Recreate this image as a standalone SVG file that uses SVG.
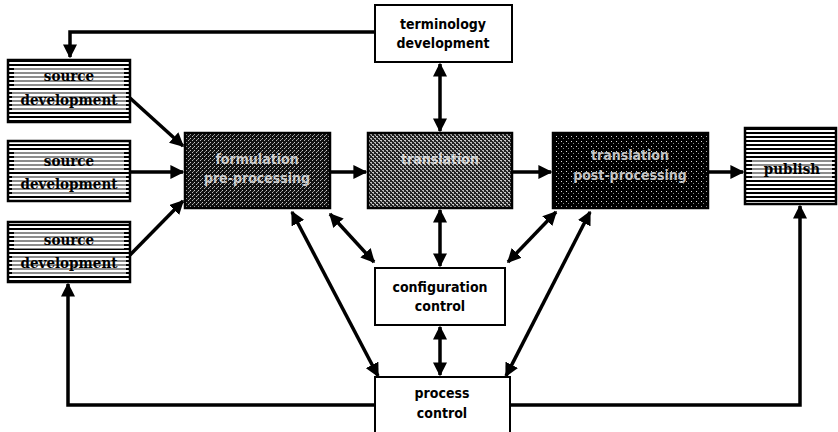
<svg xmlns="http://www.w3.org/2000/svg" width="838" height="432" viewBox="0 0 838 432">
<defs>
<pattern id="hl" width="6" height="4" patternUnits="userSpaceOnUse">
<rect width="6" height="4" fill="#fff"/><rect y="0" width="6" height="2" fill="#000"/>
</pattern>
<pattern id="dA" width="4" height="4" patternUnits="userSpaceOnUse">
<rect width="4" height="4" fill="#111"/><rect x="0" y="0" width="1" height="1" fill="#bbb"/><rect x="2" y="2" width="1" height="1" fill="#ccc"/><rect x="1" y="3" width="1" height="1" fill="#888"/>
</pattern>
<pattern id="dB" width="4" height="4" patternUnits="userSpaceOnUse">
<rect width="4" height="4" fill="#222"/><rect x="0" y="0" width="2" height="1" fill="#ccc"/><rect x="2" y="2" width="2" height="1" fill="#bbb"/><rect x="1" y="1" width="1" height="1" fill="#999"/><rect x="3" y="3" width="1" height="1" fill="#aaa"/>
</pattern>
<pattern id="dC" width="5" height="5" patternUnits="userSpaceOnUse">
<rect width="5" height="5" fill="#000"/><rect x="1" y="1" width="1" height="1" fill="#ddd"/><rect x="3" y="3" width="1" height="1" fill="#888"/>
</pattern>
<marker id="ah" viewBox="0 0 10 10" refX="9" refY="5" markerWidth="4" markerHeight="4" orient="auto-start-reverse" markerUnits="strokeWidth">
<path d="M0,0 L10,5 L0,10 z" fill="#000"/>
</marker>
<style>
.box{stroke:#000;stroke-width:2.5}
.wbox{fill:#fff;stroke:#000;stroke-width:2}
.t{font-family:"DejaVu Sans Condensed","DejaVu Sans",sans-serif;font-weight:bold;font-size:14px;fill:#000;text-anchor:middle}
.tl{font-family:"DejaVu Sans Condensed","DejaVu Sans",sans-serif;font-weight:bold;font-size:14px;fill:#fff;text-anchor:middle;opacity:0.75}
.st{font-family:"DejaVu Serif Condensed","DejaVu Serif",serif;font-weight:bold;font-size:15px;fill:#000;text-anchor:middle}
.c{fill:none;stroke:#000;stroke-width:3.5}
</style>
</defs>
<g id="connectors">
<path class="c" d="M375,32 H70 V57" marker-end="url(#ah)"/>
<path class="c" d="M440,64 V131" marker-start="url(#ah)" marker-end="url(#ah)"/>
<path class="c" d="M130,98 L183,146" marker-end="url(#ah)"/>
<path class="c" d="M130,172 H183" marker-end="url(#ah)"/>
<path class="c" d="M130,255 L183,201" marker-end="url(#ah)"/>
<path class="c" d="M330,172 H366" marker-end="url(#ah)"/>
<path class="c" d="M512,172 H551" marker-end="url(#ah)"/>
<path class="c" d="M708,172 H743" marker-end="url(#ah)"/>
<path class="c" d="M440,210 V266" marker-start="url(#ah)" marker-end="url(#ah)"/>
<path class="c" d="M330,214 L374,262" marker-start="url(#ah)" marker-end="url(#ah)"/>
<path class="c" d="M556,212 L508,262" marker-start="url(#ah)" marker-end="url(#ah)"/>
<path class="c" d="M292,212 L378,376" marker-start="url(#ah)" marker-end="url(#ah)"/>
<path class="c" d="M590,212 L506,376" marker-start="url(#ah)" marker-end="url(#ah)"/>
<path class="c" d="M440,327 V375" marker-start="url(#ah)" marker-end="url(#ah)"/>
<path class="c" d="M375,405 H68 V284" marker-end="url(#ah)"/>
<path class="c" d="M510,405 H800 V206" marker-end="url(#ah)"/>
</g>
<g id="src1"><rect class="box" x="8" y="60" width="122" height="62" fill="url(#hl)"/><rect x="14" y="68" width="110" height="18" fill="#fff" opacity="0.55"/><rect x="12" y="90" width="114" height="20" fill="#fff" opacity="0.55"/><text class="st" x="69" y="81" font-size="12">source</text><text class="st" x="69" y="105">development</text></g>
<g id="src2"><rect class="box" x="8" y="141" width="122" height="60" fill="url(#hl)"/><rect x="14" y="152" width="110" height="18" fill="#fff" opacity="0.55"/><rect x="12" y="174" width="114" height="20" fill="#fff" opacity="0.55"/><text class="st" x="69" y="166">source</text><text class="st" x="69" y="189">development</text></g>
<g id="src3"><rect class="box" x="8" y="222" width="122" height="60" fill="url(#hl)"/><rect x="14" y="231" width="110" height="18" fill="#fff" opacity="0.55"/><rect x="12" y="254" width="114" height="20" fill="#fff" opacity="0.55"/><text class="st" x="69" y="245">source</text><text class="st" x="69" y="268">development</text></g>
<g id="formulation"><rect class="box" x="185" y="133" width="145" height="75" fill="url(#dA)"/><text class="tl" x="257" y="164">formulation</text><text class="tl" x="257" y="183">pre-processing</text></g>
<g id="translation"><rect class="box" x="368" y="133" width="144" height="75" fill="url(#dB)"/><text class="tl" x="440" y="164">translation</text></g>
<g id="postprocessing"><rect class="box" x="553" y="133" width="155" height="75" fill="url(#dC)"/><text class="tl" x="630" y="160">translation</text><text class="tl" x="630" y="180">post-processing</text></g>
<g id="publish"><rect class="box" x="745" y="128" width="91" height="76" fill="url(#hl)"/><rect x="752" y="160" width="80" height="20" fill="#fff" opacity="0.55"/><text class="st" x="792" y="174">publish</text></g>
<g id="terminology"><rect class="wbox" x="375" y="5" width="137" height="57"/><text class="t" x="443" y="29">terminology</text><text class="t" x="443" y="48">development</text></g>
<g id="config"><rect class="wbox" x="375" y="268" width="130" height="57"/><text class="t" x="440" y="292">configuration</text><text class="t" x="440" y="311">control</text></g>
<g id="process"><rect class="wbox" x="375" y="377" width="135" height="60"/><text class="t" x="442" y="398">process</text><text class="t" x="442" y="418">control</text></g>
</svg>
